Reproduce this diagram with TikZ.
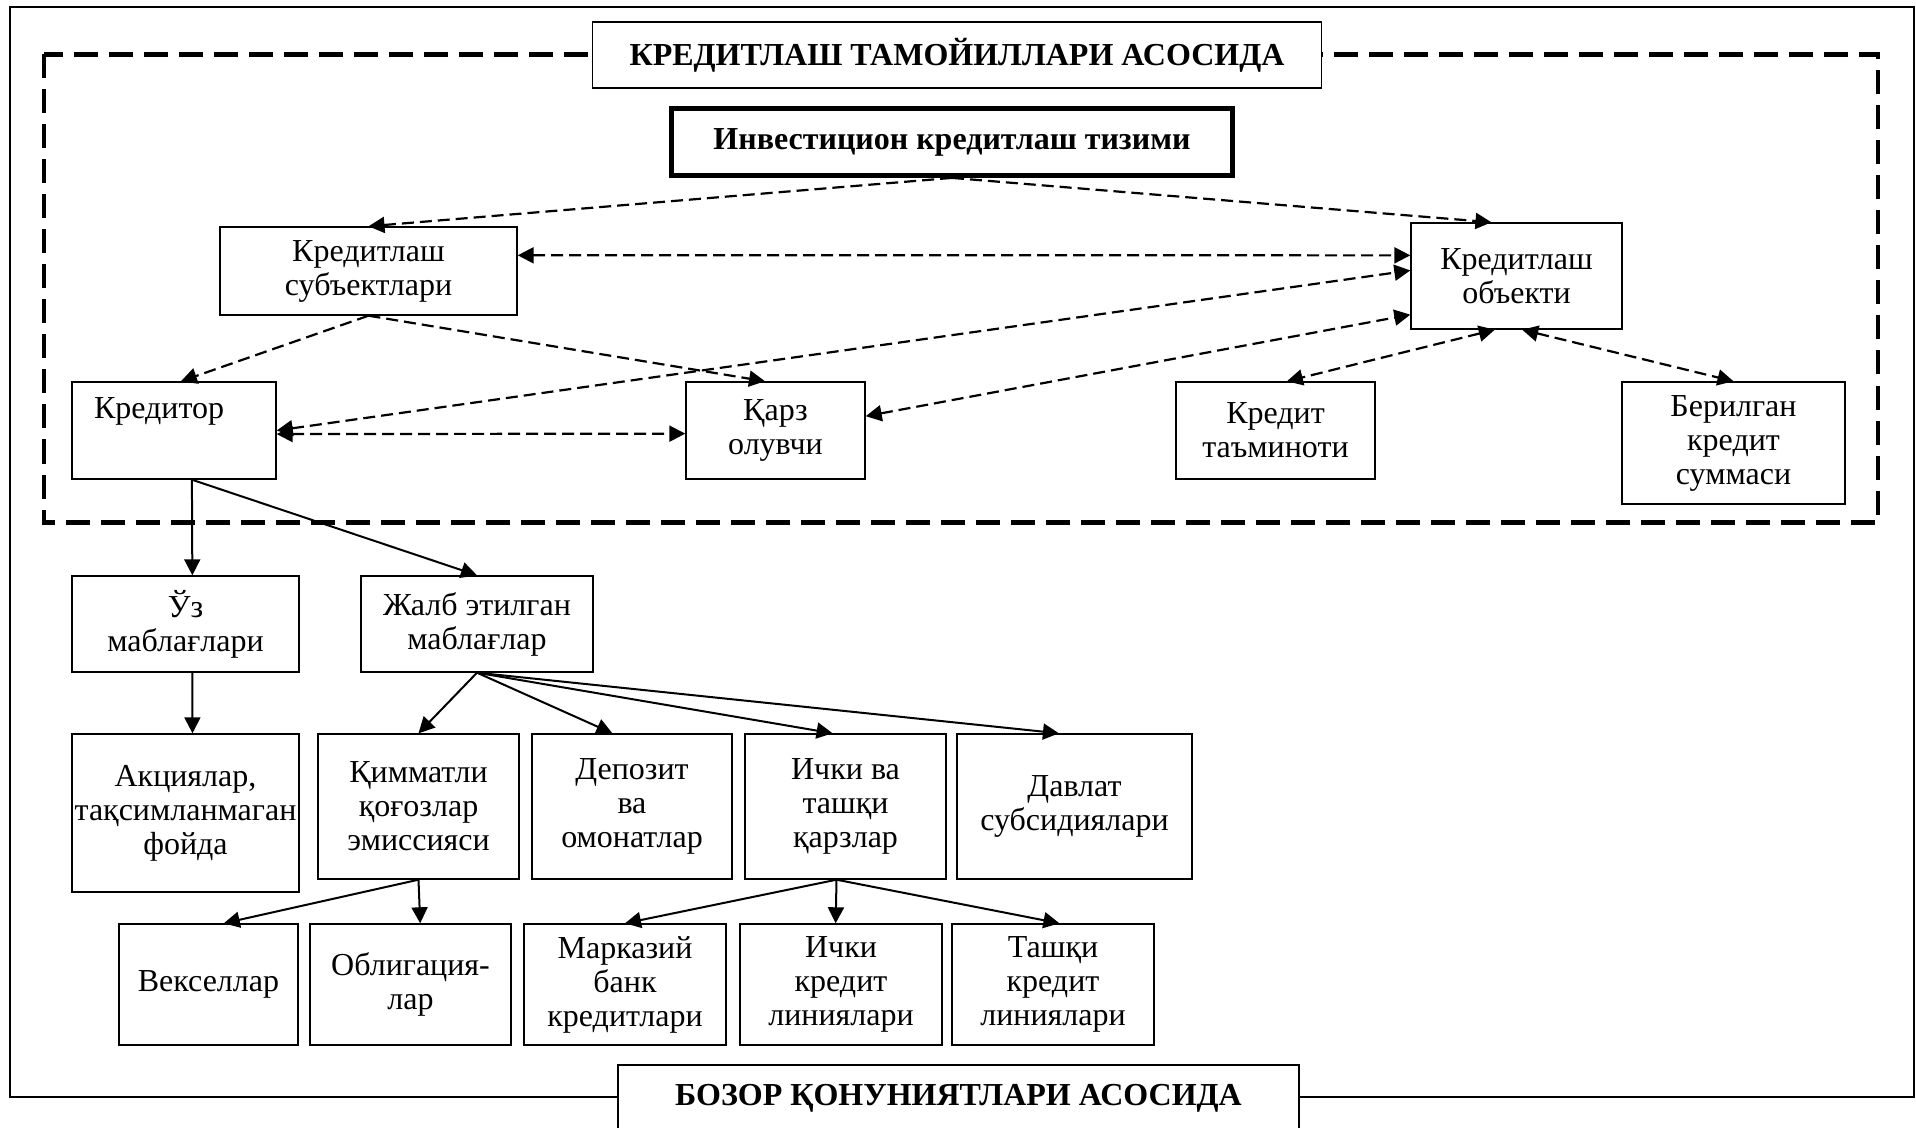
\documentclass[tikz,border=0pt]{standalone}
\usepackage{fontspec}
\setmainfont{Liberation Serif}
\usetikzlibrary{arrows.meta}

\tikzset{
  box/.style={draw, line width=0.7pt, fill=white, align=center, inner sep=0pt,
    font=\fontsize{16pt}{17pt}\selectfont},
  headbox/.style={box, font=\fontsize{16pt}{17pt}\selectfont\bfseries},
  link/.style={-{Triangle[length=8pt,width=8pt]}, line width=1pt},
  dto/.style={link, line width=1.1pt, dash pattern=on 6pt off 3pt},
  dlink/.style={dto, {Triangle[length=8pt,width=8pt]}-{Triangle[length=8pt,width=8pt]}},
}

\begin{document}
\begin{tikzpicture}[x=0.5pt, y=-0.5pt]
\useasboundingbox (0,0) rectangle (1916,1128);

% frames
\draw[line width=1.3pt] (10,7) rectangle (1914,1097);
\draw[line width=2.2pt, dash pattern=on 12pt off 5.5pt] (44,54.5) rectangle (1878,522.5);

\node[headbox, line width=0.8pt, minimum width=364.5pt, minimum height=33pt] (title) at (957,55) {КРЕДИТЛАШ ТАМОЙИЛЛАРИ АСОСИДА};
\node[headbox, line width=2.4pt, minimum width=280.5pt, minimum height=33.5pt] (invest) at (952,142) {Инвестицион кредитлаш тизими};
\node[headbox, line width=1.3pt, minimum width=340.5pt, minimum height=33pt] (bozor) at (958.5,1098) {БОЗОР ҚОНУНИЯТЛАРИ АСОСИДА};

% upper level
\node[box, minimum width=148.5pt, minimum height=44pt] (subj) at (368.5,271) {Кредитлаш\\субъектлари};
\node[box, minimum width=105.5pt, minimum height=53pt] (obj) at (1516.5,276) {Кредитлаш\\объекти};
\node[box, align=left, text width=80pt, inner xsep=11pt, minimum height=48.5pt] (kred) at (174,430.5) {Кредитор\\\strut};
\node[box, minimum width=89.5pt, minimum height=48.5pt] (qarz) at (775.5,430.5) {Қарз\\олувчи};
\node[box, minimum width=99.5pt, minimum height=48.5pt] (tamin) at (1275.5,430.5) {Кредит\\таъминоти};
\node[box, minimum width=111.5pt, minimum height=61pt] (summa) at (1733.5,443) {Берилган\\кредит\\суммаси};

% sources
\node[box, minimum width=113.5pt, minimum height=48pt] (uz) at (185.5,624) {Ўз\\маблағлари};
\node[box, minimum width=116pt, minimum height=48pt] (jalb) at (477,624) {Жалб этилган\\маблағлар};
\node[box, minimum width=113.5pt, minimum height=79pt] (aksiya) at (185.5,813) {Акциялар,\\тақсимланмаган\\фойда};
\node[box, minimum width=100.5pt, minimum height=72.5pt] (qimmat) at (418.5,806.5) {Қимматли\\қоғозлар\\эмиссияси};
\node[box, minimum width=100pt, minimum height=72.5pt] (depozit) at (632,806.5) {Депозит\\ва\\омонатлар};
\node[box, minimum width=100.5pt, minimum height=72.5pt] (ichki) at (845.5,806.5) {Ички ва\\ташқи\\қарзлар};
\node[box, minimum width=117.5pt, minimum height=72.5pt] (davlat) at (1074.5,806.5) {Давлат\\субсидиялари};

\node[box, minimum width=89.5pt, minimum height=60.5pt] (veksel) at (208.5,984.5) {Векселлар};
\node[box, minimum width=100.5pt, minimum height=60.5pt] (oblig) at (410.5,984.5) {Облигация-\\лар};
\node[box, minimum width=101pt, minimum height=60.5pt] (markaz) at (625,984.5) {Марказий\\банк\\кредитлари};
\node[box, minimum width=101pt, minimum height=60.5pt] (ichkikr) at (841,984.5) {Ички\\кредит\\линиялари};
\node[box, minimum width=101pt, minimum height=60.5pt] (tashqi) at (1053,984.5) {Ташқи\\кредит\\линиялари};

% dashed links
\draw[dto] (invest.south) -- (subj.north);
\draw[dto] (invest.south) -- (obj.115);
\draw[dto] (subj.south) -- (kred.82);
\draw[dto] (subj.south) -- (qarz.102);
\foreach \a/\b in {subj.6/obj.169, kred.east/obj.177, kred.-2/qarz.182,
                   qarz.9/obj.200, obj.248/tamin.77, obj.276/summa.north}
  \draw[dlink] (\a) -- (\b);

% solid links
\draw[link] (kred.-70) -- (uz.82);
\draw[link] (kred.-70) -- (jalb.north);
\draw[link] (uz.-82) -- (aksiya.85);
\foreach \t in {qimmat.north, depozit.105, ichki.100, davlat.102}
  \draw[link] (jalb.south) -- (\t);
\draw[link] (qimmat.south) -- (veksel.76);
\draw[link] (qimmat.south) -- (oblig.81);
\foreach \t in {markaz.north, ichkikr.95, tashqi.84}
  \draw[link] (ichki.-97) -- (\t);
\end{tikzpicture}
\end{document}
